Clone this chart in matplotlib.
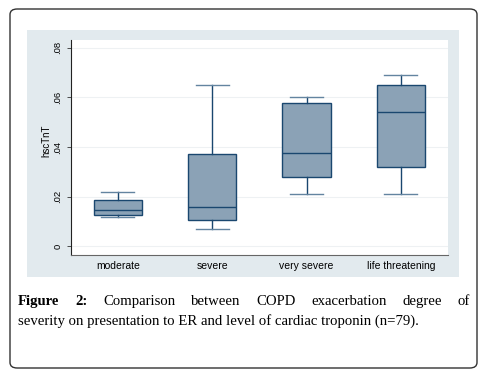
import numpy as np
import matplotlib.pyplot as plt
from matplotlib.patches import FancyBboxPatch, Rectangle

# data (hscTnT box summaries)
cats = ['moderate', 'severe', 'very severe', 'life threatening']
wlo = [0.0116, 0.0067, 0.0209, 0.0209]
q1 = [0.0124, 0.0106, 0.0278, 0.0318]
med = [0.0144, 0.0156, 0.0375, 0.0540]
q3 = [0.0185, 0.0370, 0.0579, 0.0650]
whi = [0.0217, 0.0650, 0.0600, 0.0690]
yticks = [0, 0.02, 0.04, 0.06, 0.08]
ytlab = ['0', '.02', '.04', '.06', '.08']

W, H = 484, 370
fig = plt.figure(figsize=(W/100, H/100), dpi=100)
fig.patch.set_facecolor('white')

# rounded outer frame
frame = FancyBboxPatch((10/W, 2/H), 467/W, 359/H, boxstyle='round,pad=0,rounding_size=0.015',
                       transform=fig.transFigure, facecolor='white', edgecolor='#333333',
                       lw=1.0, zorder=-3)
fig.patches.append(frame)
# stata grey panel
panel = Rectangle((27/W, 1-277/H), 432/W, 247/H, transform=fig.transFigure,
                  facecolor='#e2eaee', edgecolor='none', zorder=-2)
fig.patches.append(panel)

ax = fig.add_axes([70.7/W, 1-255/H, (448-70.7)/W, (255-40)/H])
ax.set_facecolor('white')
stats = [dict(med=med[i], q1=q1[i], q3=q3[i], whislo=wlo[i], whishi=whi[i], label=cats[i])
         for i in range(len(cats))]
navy = '#1a476f'
bp = ax.bxp(stats, positions=np.arange(len(cats)), widths=0.51, patch_artist=True,
            showfliers=False, capwidths=0.35,
            boxprops=dict(facecolor='#8ba2b6', edgecolor=navy, lw=1.0),
            medianprops=dict(color=navy, lw=1.0),
            whiskerprops=dict(color=navy, lw=1.0),
            capprops=dict(color='#6384a0', lw=1.0))
ax.set_xlim(-0.5, len(cats) - 0.5)
ax.set_ylim(-0.0036, 0.0832)
ax.set_yticks(yticks)
ax.set_yticklabels(ytlab, rotation=90, va='center', fontsize=6.8, family='Liberation Sans')
ax.yaxis.grid(True, color='#eef1f3', lw=0.8)
ax.set_axisbelow(True)
ax.tick_params(axis='x', length=0, labelsize=7.5, pad=4)
ax.tick_params(axis='y', length=3, width=0.6, color='#333333', pad=3)
for lab in ax.get_xticklabels():
    lab.set_family('Liberation Sans')
for s in ['top', 'right']:
    ax.spines[s].set_visible(False)
ax.spines['left'].set_color('#222222')
ax.spines['bottom'].set_color('#666666')
ax.spines['left'].set_linewidth(0.8)
ax.spines['bottom'].set_linewidth(0.8)
ax.set_ylabel('hscTnT', fontsize=7, family='Liberation Sans', labelpad=4)
ax.yaxis.set_label_coords(-0.052, 0.53)

# caption, first line justified
fig.canvas.draw()
r = fig.canvas.get_renderer()
fs = 10.6
left, right = 18, 470
y1 = H - 305
words = [('Figure', 'bold'), ('2:', 'bold'), ('Comparison', 'normal'), ('between', 'normal'),
         ('COPD', 'normal'), ('exacerbation', 'normal'), ('degree', 'normal'), ('of', 'normal')]
txts = [fig.text(0, y1/H, w, fontsize=fs, family='Liberation Serif', weight=wt, va='baseline')
        for w, wt in words]
widths = [t.get_window_extent(r).width for t in txts]
gap = (right - left - sum(widths)) / (len(words) - 1)
x = left
for t, w in zip(txts, widths):
    t.set_x(x / W)
    x += w + gap
fig.text(left/W, (H - 325)/H, 'severity on presentation to ER and level of cardiac troponin (n=79).',
         fontsize=fs, family='Liberation Serif', va='baseline')

fig.savefig('out.png', dpi=100)
